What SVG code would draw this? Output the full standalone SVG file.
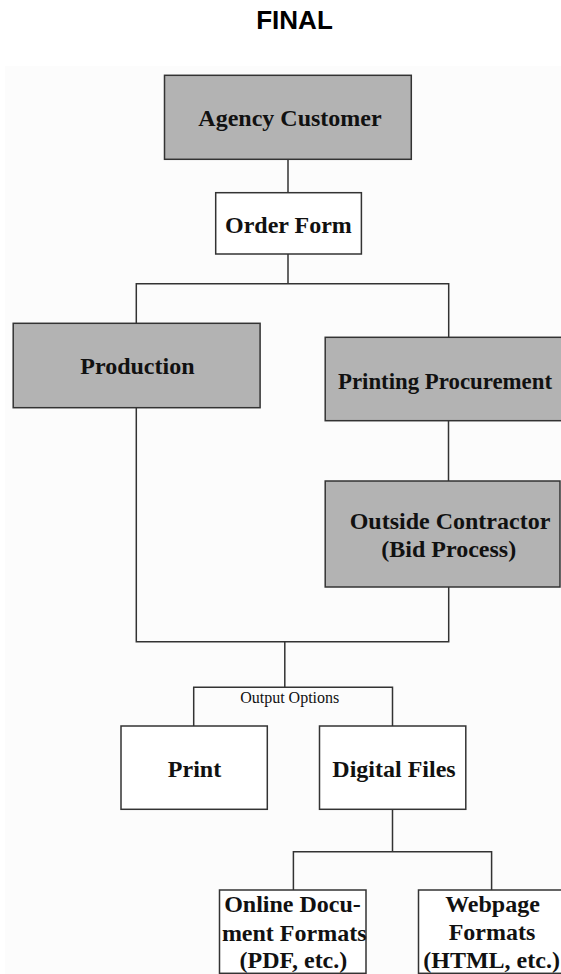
<svg xmlns="http://www.w3.org/2000/svg" width="561" height="974" viewBox="0 0 561 974">
<style>
.box{stroke:#333;stroke-width:1.5}
.g{fill:#b3b3b3}
.w{fill:#fff}
.t{font-family:"Liberation Serif","Times New Roman",serif;font-weight:bold;font-size:24px;fill:#111;text-anchor:middle}
.s{font-family:"Liberation Serif","Times New Roman",serif;font-size:16px;fill:#111;text-anchor:middle}
.c{fill:none;stroke:#333;stroke-width:1.5}
</style>
<rect x="0" y="0" width="561" height="974" fill="#fff"/>
<text x="294.5" y="29.3" font-family="Liberation Sans, Arial, sans-serif" font-weight="bold" font-size="26" text-anchor="middle" fill="#000">FINAL</text>
<rect x="5" y="66" width="560" height="910" fill="#fcfcfc"/>
<g id="connectors" class="c">
<path d="M288 159.3V192.7"/>
<path d="M288 254V283.7"/>
<path d="M136.3 323.3V283.7H448.7V337.3"/>
<path d="M448.5 420.7V481"/>
<path d="M136.3 407.7V641.7H448.7V587"/>
<path d="M284.8 641.7V687.3"/>
<path d="M193.7 726V687.3H392.5V726"/>
<path d="M392.5 809.3V851.7"/>
<path d="M293.4 890V851.7H491.6V890"/>
</g>
<g id="agency-customer"><rect class="box g" x="164.5" y="75.3" width="246.8" height="84"/><text class="t" x="290" y="126">Agency Customer</text></g>
<g id="order-form"><rect class="box w" x="215.7" y="192.7" width="145.7" height="61.3"/><text class="t" x="288.4" y="232.7">Order Form</text></g>
<g id="production"><rect class="box g" x="13.2" y="323.3" width="246.9" height="84.4"/><text class="t" x="137.4" y="374">Production</text></g>
<g id="printing-procurement"><rect class="box g" x="325.2" y="337.3" width="245" height="83.4"/><text class="t" x="338" y="389.3" style="text-anchor:start" textLength="214" lengthAdjust="spacingAndGlyphs">Printing Procurement</text></g>
<g id="outside-contractor"><rect class="box g" x="325.2" y="481" width="234.8" height="106"/><text class="t" x="450" y="529.3">Outside Contractor</text><text class="t" x="448.7" y="557.3">(Bid Process)</text></g>
<g id="output-options-label"><text class="s" x="289.7" y="703">Output Options</text></g>
<g id="print"><rect class="box w" x="121" y="726" width="146.3" height="83.3"/><text class="t" x="194.5" y="776.7">Print</text></g>
<g id="digital-files"><rect class="box w" x="319.5" y="726" width="146.3" height="83.3"/><text class="t" x="394" y="776.7">Digital Files</text></g>
<g id="online-document-formats"><rect class="box w" x="219.5" y="890" width="146.5" height="83.3"/><text class="t" x="292.5" y="912">Online Docu-</text><text class="t" x="294.2" y="940.5">ment Formats</text><text class="t" x="293.4" y="968.3">(PDF, etc.)</text></g>
<g id="webpage-formats"><rect class="box w" x="418.5" y="890" width="146.5" height="83.3"/><text class="t" x="492.5" y="911.7">Webpage</text><text class="t" x="492" y="940">Formats</text><text class="t" x="491.6" y="968.3">(HTML, etc.)</text></g>
</svg>
